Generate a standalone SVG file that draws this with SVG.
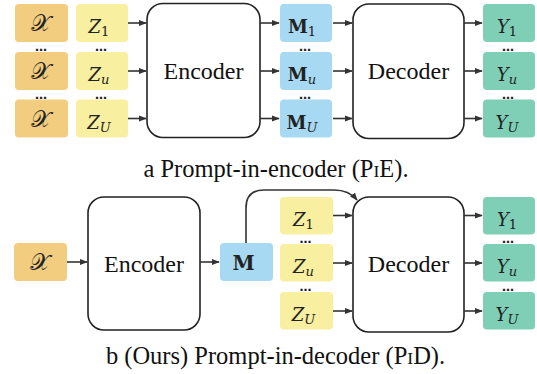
<svg xmlns="http://www.w3.org/2000/svg" width="537" height="374" viewBox="0 0 537 374">
<defs>
<marker id="ah" viewBox="0 0 10 10" refX="9" refY="5" markerWidth="8" markerHeight="8" markerUnits="userSpaceOnUse" orient="auto">
<path d="M0,1 L10,5 L0,9 Z" fill="#333"/>
</marker>
<style>
.x{fill:#F2CD80}
.z{fill:#F8EFA0}
.m{fill:#A8D9F2}
.y{fill:#7ECFB5}
.blk{fill:#fff;stroke:#222;stroke-width:1.6}
.lbl{font-family:'Liberation Serif',serif;font-size:24px;fill:#111;text-anchor:middle}
.math{font-family:'DejaVu Serif',serif;font-style:italic;font-size:18px;fill:#222;text-anchor:middle}
.scr{font-family:'DejaVu Sans',sans-serif;font-size:23px;font-style:normal}
.sub{font-style:normal;font-size:13px}
.subi{font-size:13px}
.bold{font-weight:bold;font-style:normal;font-size:18px}
.mb{font-weight:bold;font-style:normal;font-size:20px}
.dots{font-family:'DejaVu Sans',sans-serif;font-size:12px;fill:#222;text-anchor:middle;font-weight:bold}
.cap{font-family:'Liberation Serif',serif;font-size:24.5px;fill:#111;text-anchor:middle}
.con{stroke:#333;stroke-width:1.6;fill:none;marker-end:url(#ah)}
</style>
</defs>

<!-- Top: Prompt-in-encoder -->
<g id="a-x1"><rect class="x" x="15" y="4" width="53" height="38" rx="4"/><text class="math scr" x="40.5" y="31">𝒳</text></g>
<g id="a-x2"><rect class="x" x="15" y="52" width="53" height="38" rx="4"/><text class="math scr" x="40.5" y="79">𝒳</text></g>
<g id="a-x3"><rect class="x" x="15" y="99.5" width="53" height="38" rx="4"/><text class="math scr" x="40.5" y="126.5">𝒳</text></g>
<g id="a-z1"><rect class="z" x="76" y="4" width="52" height="38" rx="4"/><text class="math" x="99" y="33">Z<tspan class="sub" dy="3">1</tspan></text></g>
<g id="a-zu"><rect class="z" x="76" y="52" width="52" height="38" rx="4"/><text class="math" x="99" y="81">Z<tspan class="subi" dy="3">u</tspan></text></g>
<g id="a-zU"><rect class="z" x="76" y="99.5" width="52" height="38" rx="4"/><text class="math" x="99" y="128.5">Z<tspan class="subi" dy="3">U</tspan></text></g>
<g id="a-enc"><rect class="blk" x="147" y="3.5" width="113" height="134" rx="16"/><text class="lbl" x="203.5" y="79">Encoder</text></g>
<g id="a-m1"><rect class="m" x="280" y="4" width="52" height="38" rx="4"/><text class="math" x="302" y="33"><tspan class="bold">M</tspan><tspan class="sub" dy="3">1</tspan></text></g>
<g id="a-mu"><rect class="m" x="280" y="52" width="52" height="38" rx="4"/><text class="math" x="302" y="81"><tspan class="bold">M</tspan><tspan class="subi" dy="3">u</tspan></text></g>
<g id="a-mU"><rect class="m" x="280" y="99.5" width="52" height="38" rx="4"/><text class="math" x="302" y="128.5"><tspan class="bold">M</tspan><tspan class="subi" dy="3">U</tspan></text></g>
<g id="a-dec"><rect class="blk" x="353" y="4" width="111" height="134.5" rx="16"/><text class="lbl" x="408.5" y="79">Decoder</text></g>
<g id="a-y1"><rect class="y" x="483" y="4" width="52" height="38" rx="4"/><text class="math" x="507" y="33">Y<tspan class="sub" dy="3">1</tspan></text></g>
<g id="a-yu"><rect class="y" x="483" y="52" width="52" height="38" rx="4"/><text class="math" x="507" y="81">Y<tspan class="subi" dy="3">u</tspan></text></g>
<g id="a-yU"><rect class="y" x="483" y="99.5" width="52" height="38" rx="4"/><text class="math" x="507" y="128.5">Y<tspan class="subi" dy="3">U</tspan></text></g>

<g id="a-dots">
<text class="dots" x="41" y="51">…</text><text class="dots" x="41" y="98.5">…</text>
<text class="dots" x="101" y="51">…</text><text class="dots" x="101" y="98.5">…</text>
<text class="dots" x="305" y="51">…</text><text class="dots" x="305" y="98.5">…</text>
<text class="dots" x="508" y="51">…</text><text class="dots" x="508" y="98.5">…</text>
</g>

<text class="cap" x="276" y="176.5">a Prompt-in-encoder (P<tspan font-size="17.5">I</tspan>E).</text>

<!-- Bottom: Prompt-in-decoder -->
<g id="b-x"><rect class="x" x="14" y="243" width="53" height="38" rx="4"/><text class="math scr" x="40" y="270">𝒳</text></g>
<g id="b-enc"><rect class="blk" x="88" y="197" width="112" height="133" rx="16"/><text class="lbl" x="144" y="272">Encoder</text></g>
<g id="b-m"><rect class="m" x="220" y="243" width="53" height="38" rx="4"/><text class="math mb" x="243.5" y="269.5">M</text></g>
<g id="b-z1"><rect class="z" x="280" y="197" width="53" height="37.5" rx="4"/><text class="math" x="303.5" y="225.5">Z<tspan class="sub" dy="3">1</tspan></text></g>
<g id="b-zu"><rect class="z" x="280" y="244" width="53" height="37.5" rx="4"/><text class="math" x="303.5" y="272.5">Z<tspan class="subi" dy="3">u</tspan></text></g>
<g id="b-zU"><rect class="z" x="280" y="292" width="53" height="37.5" rx="4"/><text class="math" x="303.5" y="320.5">Z<tspan class="subi" dy="3">U</tspan></text></g>
<g id="b-dec"><rect class="blk" x="353" y="197" width="111" height="135" rx="16"/><text class="lbl" x="408.5" y="272">Decoder</text></g>
<g id="b-y1"><rect class="y" x="483" y="197" width="52" height="37.5" rx="4"/><text class="math" x="507" y="225.5">Y<tspan class="sub" dy="3">1</tspan></text></g>
<g id="b-yu"><rect class="y" x="483" y="244" width="52" height="37.5" rx="4"/><text class="math" x="507" y="272.5">Y<tspan class="subi" dy="3">u</tspan></text></g>
<g id="b-yU"><rect class="y" x="483" y="292" width="52" height="37.5" rx="4"/><text class="math" x="507" y="320.5">Y<tspan class="subi" dy="3">U</tspan></text></g>

<g id="b-dots">
<text class="dots" x="305.5" y="243">…</text><text class="dots" x="305.5" y="291">…</text>
<text class="dots" x="508" y="243">…</text><text class="dots" x="508" y="291">…</text>
</g>

<text class="cap" x="275.5" y="364">b (Ours) Prompt-in-decoder (P<tspan font-size="17.5">I</tspan>D).</text>

<g id="connectors">
<line class="con" x1="128" y1="23" x2="146" y2="23"/>
<line class="con" x1="128" y1="71" x2="146" y2="71"/>
<line class="con" x1="128" y1="118.5" x2="146" y2="118.5"/>
<line class="con" x1="260" y1="23" x2="279" y2="23"/>
<line class="con" x1="260" y1="71" x2="279" y2="71"/>
<line class="con" x1="260" y1="118.5" x2="279" y2="118.5"/>
<line class="con" x1="333" y1="23" x2="352" y2="23"/>
<line class="con" x1="333" y1="71" x2="352" y2="71"/>
<line class="con" x1="333" y1="118.5" x2="352" y2="118.5"/>
<line class="con" x1="464" y1="23" x2="482" y2="23"/>
<line class="con" x1="464" y1="71" x2="482" y2="71"/>
<line class="con" x1="464" y1="118.5" x2="482" y2="118.5"/>
<line class="con" x1="67" y1="262" x2="87" y2="262"/>
<line class="con" x1="200" y1="262" x2="219" y2="262"/>
<line class="con" x1="333" y1="215.5" x2="352" y2="215.5"/>
<line class="con" x1="333" y1="263" x2="352" y2="263"/>
<line class="con" x1="333" y1="311" x2="352" y2="311"/>
<line class="con" x1="464" y1="215.5" x2="482" y2="215.5"/>
<line class="con" x1="464" y1="263" x2="482" y2="263"/>
<line class="con" x1="464" y1="311" x2="482" y2="311"/>
<path class="con" d="M246,243 L246,208 Q246,190 264,190 L334,190 Q349,190 357,200"/>
</g>
</svg>
